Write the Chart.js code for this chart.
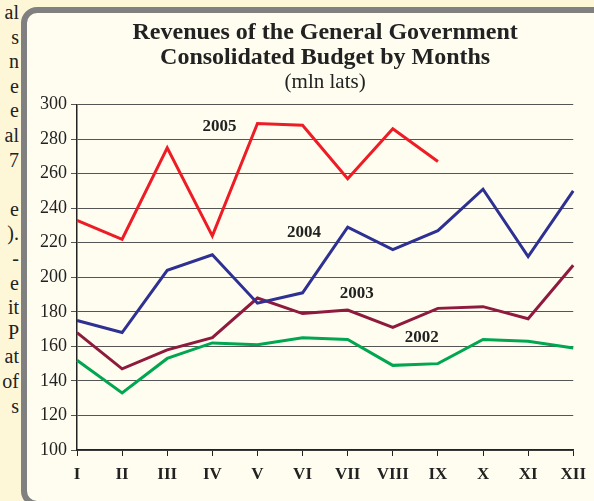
<!DOCTYPE html>
<html>
<head>
<meta charset="utf-8">
<script src="https://cdn.jsdelivr.net/npm/chart.js@4.4.0/dist/chart.umd.min.js"></script>
<style>
  html, body { margin: 0; padding: 0; }
  body { width: 594px; height: 501px; overflow: hidden; position: relative; background: #fdf7d8; }
  #side { position: absolute; left: 0; top: 0; width: 19px; text-align: right; font: 20px "Liberation Serif", serif;
          line-height: 24.6px; color: #222; white-space: pre; }
  #panel { position: absolute; left: 21px; top: 7px; width: 600px; height: 500px; box-sizing: border-box;
           border: 6px solid #808080; border-radius: 16px; background: #fffdf0; }
  #wrap { position: absolute; left: 0; top: 0; width: 594px; height: 501px; }
</style>
</head>
<body>
<div id="side">al
s
n
e
e
al
7

e
).
-
e
it
P
at
of
s</div>
<div id="panel"></div>
<div id="wrap"><canvas id="chart"></canvas></div>
<script>
// months and yearly revenues, mln lats
const months = ["I","II","III","IV","V","VI","VII","VIII","IX","X","XI","XII"];
const rev2005 = [233, 222, 275, 224, 289, 288, 257, 286, 267, null, null, null];
const rev2004 = [175, 168, 204, 213, 185, 191, 229, 216, 227, 251, 212, 250];
const rev2003 = [168, 147, 158, 165, 188, 179, 181, 171, 182, 183, 176, 207];
const rev2002 = [152, 133, 153, 162, 161, 165, 164, 149, 150, 164, 163, 159];
const yearLabels = ["2005", "2004", "2003", "2002"];
const labelPos = [[3.16, 287.2], [5.03, 226], [6.2, 190.8], [7.64, 165.1]];

const serif = '"Liberation Serif", "Times New Roman", serif';

const yearText = {
  id: "yearText",
  afterDatasetsDraw(chart) {
    const { ctx, scales: { x, y } } = chart;
    ctx.save();
    ctx.font = "bold 17px " + serif;
    ctx.fillStyle = "#222";
    ctx.textAlign = "center";
    ctx.textBaseline = "middle";
    yearLabels.forEach((t, i) => {
      ctx.fillText(t, x.getPixelForValue(labelPos[i][0]), y.getPixelForValue(labelPos[i][1]));
    });
    ctx.restore();
  }
};

const line = (data, color) => ({ data, borderColor: color, borderWidth: 3, pointRadius: 0, fill: false, tension: 0 });

new Chart(document.getElementById("chart"), {
  type: "line",
  data: {
    labels: months,
    datasets: [
      line(rev2005, "#ee1c25"),
      line(rev2004, "#2e3192"),
      line(rev2003, "#8e1b3e"),
      line(rev2002, "#00a650")
    ]
  },
  options: {
    responsive: true,
    maintainAspectRatio: false,
    animation: false,
    layout: { padding: { left: 0, right: 17, top: 0, bottom: 9 } },
    plugins: {
      legend: { display: false },
      tooltip: { enabled: false },
      title: {
        display: true,
        fullSize: false,
        text: ["Revenues of the General Government", "Consolidated Budget by Months"],
        color: "#222",
        font: { family: serif, size: 24, weight: "bold", lineHeight: 1.05 },
        padding: { top: 20, bottom: 0 }
      },
      subtitle: {
        display: true,
        fullSize: false,
        text: "(mln lats)",
        color: "#222",
        font: { family: serif, size: 21, lineHeight: 1.15 },
        padding: { top: 0, bottom: 10 }
      }
    },
    scales: {
      x: {
        offset: false,
        grid: { drawOnChartArea: false, drawTicks: true, tickLength: 6, color: "#222" },
        border: { color: "#222", width: 1.5 },
        ticks: { color: "#222", font: { family: serif, size: 17, weight: "bold" }, padding: 8, maxRotation: 0 },
        afterFit(s) { s.height = 42; }
      },
      y: {
        min: 100,
        max: 300,
        grid: { color: "#555", tickLength: 6 },
        border: { color: "#222", width: 1.5 },
        ticks: { stepSize: 20, color: "#222", font: { family: serif, size: 18 }, padding: 4 },
        afterFit(s) { s.width = 77; }
      }
    }
  },
  plugins: [yearText]
});
</script>
</body>
</html>
